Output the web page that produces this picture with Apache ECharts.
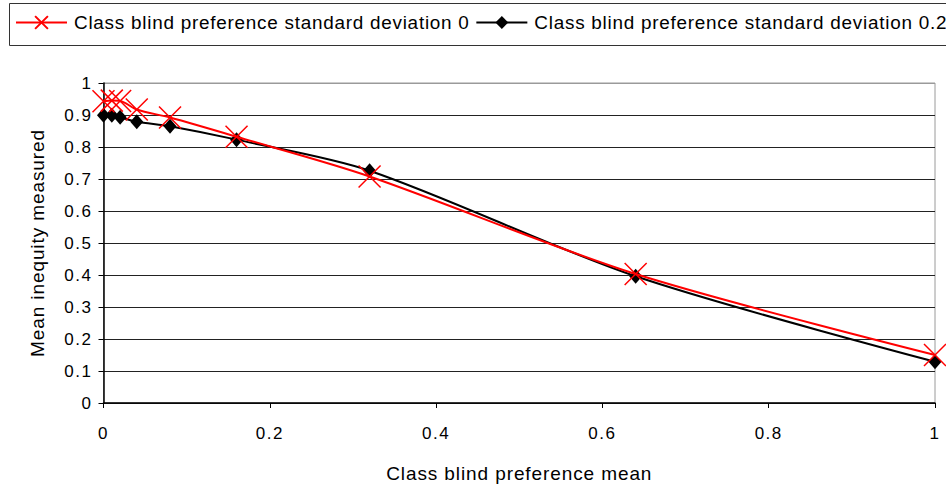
<!DOCTYPE html>
<html>
<head>
<meta charset="utf-8">
<script src="https://cdn.jsdelivr.net/npm/echarts@6/dist/echarts.min.js"></script>
<style>
  html, body { margin: 0; padding: 0; background: #fff; }
  #chart { width: 946px; height: 488px; }
  /* the chart's lettering is set a little wide */
  #chart text[style*="17px"] { letter-spacing: 1.5px; }
  #chart text[style*="19px"] { letter-spacing: 0.9px; }
  #chart text[style*="18.9px"] { letter-spacing: 0.75px; }
</style>
</head>
<body>
<div id="chart"></div>
<script>
// Class blind preference mean (x) and mean inequity measured (y)
var prefMean = [0, 0.01, 0.02, 0.04, 0.08, 0.16, 0.32, 0.64, 1];
var inequitySd0 = [0.943, 0.945, 0.944, 0.917, 0.892, 0.832, 0.708, 0.403, 0.150];
var inequitySd02 = [0.899, 0.899, 0.893, 0.879, 0.865, 0.823, 0.726, 0.396, 0.129];
var seriesNames = ['Class blind preference standard deviation 0', 'Class blind preference standard deviation 0.2'];

function pairs(xs, ys) {
  return xs.map(function (x, i) { return [x, ys[i]]; });
}

var font = 'Liberation Sans, Arial, sans-serif';
var chart = echarts.init(document.getElementById('chart'), null, { renderer: 'svg' });

var gridColors = [];
for (var i = 0; i <= 10; i++) gridColors.push(i === 10 ? '#9a9a9a' : '#222');

function tickText(v) { return String(+v.toFixed(1)); }

chart.setOption({
  animation: false,
  backgroundColor: '#fff',
  textStyle: { fontFamily: font },
  graphic: [{
    type: 'rect', left: 9, top: 3, z: -1,
    shape: { width: 942, height: 42 },
    style: { fill: '#fff', stroke: '#333', lineWidth: 1 }
  }],
  legend: {
    left: 15, top: 13, padding: 0,
    itemWidth: 51, itemHeight: 16, itemGap: 38,
    textStyle: { fontSize: 18.9, color: '#000', fontFamily: font, padding: [0, 0, 0, 2] },
    data: seriesNames
  },
  grid: {
    left: 103.5, right: 11, top: 83, bottom: 80,
    show: true, borderColor: '#9a9a9a', borderWidth: 1, backgroundColor: 'transparent'
  },
  xAxis: {
    type: 'value', min: 0, max: 1, interval: 0.2,
    name: 'Class blind preference mean', nameLocation: 'middle', nameGap: 61,
    nameTextStyle: { fontSize: 19, color: '#000', fontFamily: font },
    axisLine: { show: true, lineStyle: { color: '#000', width: 1.5 } },
    axisTick: { show: true, length: 5, lineStyle: { color: '#000' } },
    axisLabel: { fontSize: 17, color: '#000', margin: 22, fontFamily: font, formatter: tickText },
    splitLine: { show: false }
  },
  yAxis: {
    type: 'value', min: 0, max: 1, interval: 0.1,
    name: 'Mean inequity measured', nameLocation: 'middle', nameGap: 57, nameRotate: 90,
    nameTextStyle: { fontSize: 19, color: '#000', fontFamily: font },
    axisLine: { show: true, lineStyle: { color: '#000', width: 1.5 } },
    axisTick: { show: true, length: 5, lineStyle: { color: '#000' } },
    axisLabel: { fontSize: 17, color: '#000', margin: 11, fontFamily: font, formatter: tickText },
    splitLine: { show: true, lineStyle: { color: gridColors, width: 1 } }
  },
  series: [
    {
      name: seriesNames[0],
      type: 'line',
      data: pairs(prefMean, inequitySd0),
      smooth: 0.3,
      clip: false,
      symbol: 'path://M0,0L10,10M10,0L0,10',
      symbolSize: 22,
      lineStyle: { color: '#ff0000', width: 2 },
      itemStyle: { color: 'none', borderColor: '#ff0000', borderWidth: 1.5 },
      z: 3
    },
    {
      name: seriesNames[1],
      type: 'line',
      data: pairs(prefMean, inequitySd02),
      smooth: 0.3,
      clip: false,
      symbol: 'diamond',
      symbolSize: [13, 15],
      lineStyle: { color: '#000', width: 2 },
      itemStyle: { color: '#000', borderWidth: 0 },
      z: 2
    }
  ]
});
</script>
</body>
</html>
